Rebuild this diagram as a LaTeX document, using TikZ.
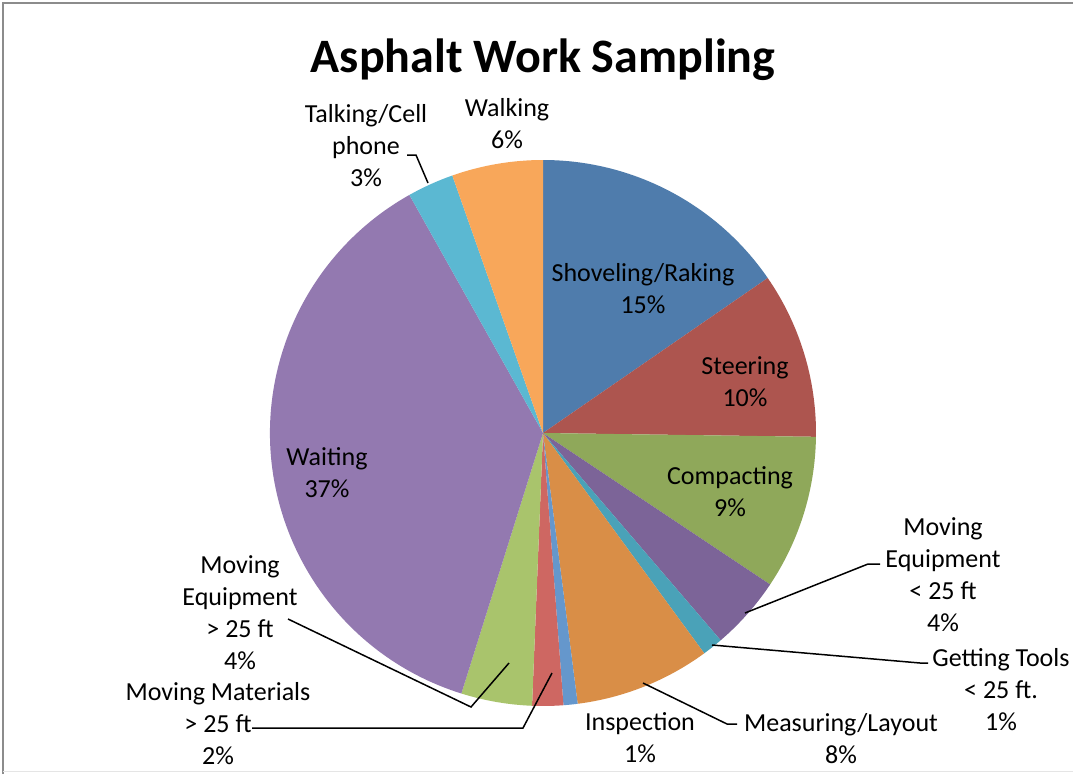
\documentclass[tikz,border=0pt]{standalone}
\usepackage{fontspec}
\setmainfont{Carlito}
\usetikzlibrary{calc}
\definecolor{shovelblue}{HTML}{4F7CAC}
\definecolor{steerred}{HTML}{AD554F}
\definecolor{compgreen}{HTML}{8FA85A}
\definecolor{movpurple}{HTML}{7C6498}
\definecolor{toolteal}{HTML}{4AA2B8}
\definecolor{measorange}{HTML}{D98E47}
\definecolor{inspblue}{HTML}{6597CC}
\definecolor{matred}{HTML}{CE6762}
\definecolor{eqgreen}{HTML}{A9C46C}
\definecolor{waitpurple}{HTML}{9379B0}
\definecolor{talkaqua}{HTML}{5BB8D2}
\definecolor{walkorange}{HTML}{F8A75A}
\def\pieslice[#1](#2)(#3:#4:#5){\fill[#1] (#2) -- ++(#3:#5) arc (#3:#4:#5) -- cycle;}
\tikzset{
  lbl/.style={align=center, inner sep=0pt, font=\fontsize{26}{32}\selectfont},
  lead/.style={line width=1.5pt, black}
}

\begin{document}
\begin{tikzpicture}[x=1pt, y=-1pt]
	%%%%% START %%%%%
	\useasboundingbox (0, 0) rectangle (1073, 774);
	\fill[white] (0, 0) rectangle (1073, 774);
	\draw[line width=2pt, black!45] (3, 774) -- (3, 3) -- (1073, 3);
	\draw[line width=1pt, black!10] (3, 771) -- (1073, 771);
	
	\node[font=\fontsize{48}{58}\selectfont\bfseries, inner sep=0pt] (title) at (543, 60) {Asphalt Work Sampling};
	
	\coordinate (pc) at (543, 433);
	\pieslice[shovelblue](pc)(-90:-34.6:273)
	\pieslice[steerred](pc)(-34.6:0.8:273)
	\pieslice[compgreen](pc)(0.8:33.7:273)
	\pieslice[movpurple](pc)(33.7:49.4:273)
	\pieslice[toolteal](pc)(49.4:53.8:273)
	\pieslice[measorange](pc)(53.8:82.7:273)
	\pieslice[inspblue](pc)(82.7:85.7:273)
	\pieslice[matred](pc)(85.7:92.3:273)
	\pieslice[eqgreen](pc)(92.3:107.4:273)
	\pieslice[waitpurple](pc)(107.4:240.7:273)
	\pieslice[talkaqua](pc)(240.7:250.6:273)
	\pieslice[walkorange](pc)(250.6:270:273)
	
	\node[lbl] (shovel) at (643, 289) {Shoveling/Raking\\15\%};
	\node[lbl] (steer) at (745, 382) {Steering\\10\%};
	\node[lbl] (compact) at (730, 492) {Compacting\\9\%};
	\node[lbl] (wait) at (327, 473) {Waiting\\37\%};
	\node[lbl] (walk) at (507, 124) {Walking\\6\%};
	\node[lbl] (talk) at (366, 146) {Talking/Cell\\phone\\3\%};
	\node[lbl] (moveqin) at (943, 575) {Moving\\Equipment\\< 25 ft\\4\%};
	\node[lbl] (tools) at (1001, 690) {Getting Tools\\< 25 ft.\\1\%};
	\node[lbl] (measure) at (841, 739) {Measuring/Layout\\8\%};
	\node[lbl] (inspect) at (640, 738) {Inspection\\1\%};
	\node[lbl] (moveqout) at (240, 613) {Moving\\Equipment\\> 25 ft\\4\%};
	\node[lbl] (movmat) at (218, 724) {Moving Materials\\> 25 ft\\2\%};
	
	% leader lines
	\coordinate (talk-a) at (428, 183);
	\coordinate (talk-b) at (416, 155);
	\coordinate (talk-c) at (407, 155);
	\draw[lead] (talk-a) -- (talk-b) -- (talk-c);
	
	\coordinate (meqin-a) at (745, 613);
	\coordinate (meqin-b) at (868, 564);
	\coordinate (meqin-c) at (880, 564);
	\draw[lead] (meqin-a) -- (meqin-b) -- (meqin-c);
	
	\coordinate (tools-a) at (712, 645);
	\coordinate (tools-b) at (920, 663);
	\coordinate (tools-c) at (928, 663);
	\draw[lead] (tools-a) -- (tools-b) -- (tools-c);
	
	\coordinate (meas-a) at (643, 683);
	\coordinate (meas-b) at (727, 724);
	\coordinate (meas-c) at (737, 724);
	\draw[lead] (meas-a) -- (meas-b) -- (meas-c);
	
	\coordinate (meqout-a) at (509, 663);
	\coordinate (meqout-b) at (471, 707);
	\coordinate (meqout-c) at (288, 619);
	\draw[lead] (meqout-a) -- (meqout-b) -- (meqout-c);
	
	\coordinate (mat-a) at (552, 673);
	\coordinate (mat-b) at (523, 728);
	\coordinate (mat-c) at (252, 728);
	\draw[lead] (mat-a) -- (mat-b) -- (mat-c);
	%%%%% END %%%%%
\end{tikzpicture}
\end{document}
